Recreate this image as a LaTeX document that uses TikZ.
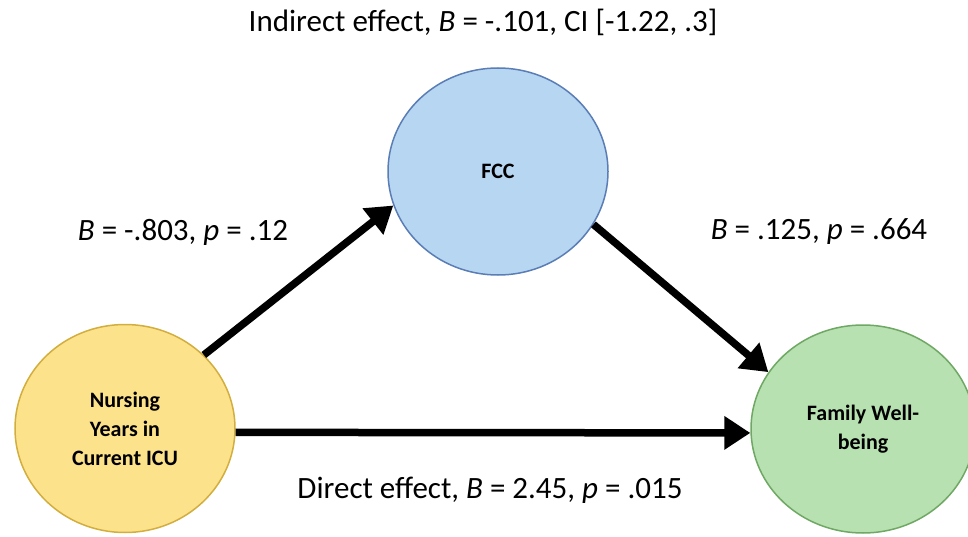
\documentclass[tikz,border=0pt]{standalone}
\usepackage{fontspec}
\setmainfont{Carlito}
\usetikzlibrary{shapes.geometric,arrows.meta}

\definecolor{yellowfill}{HTML}{FDE28C}
\definecolor{yellowline}{HTML}{D2AE3E}
\definecolor{bluefill}{HTML}{B7D6F1}
\definecolor{blueline}{HTML}{5B7DB5}
\definecolor{greenfill}{HTML}{B7E1B0}
\definecolor{greenline}{HTML}{6FA864}

\tikzset{
  varnode/.style={ellipse, line width=1.5pt, inner sep=0pt, align=center,
    font=\fontsize{22}{29}\selectfont\bfseries},
  patharrow/.style={line width=7.5pt, -{Triangle[length=26pt,width=32pt]}},
  effect/.style={font=\fontsize{31}{36}\selectfont}
}

\begin{document}
\begin{tikzpicture}[x=1pt,y=1pt]
\useasboundingbox (0,0) rectangle (968,536);

% Variables
\node[varnode, fill=yellowfill, draw=yellowline, minimum width=220pt, minimum height=208pt]
  (nursing) at (125,107.5) {Nursing\\Years in\\Current ICU};
\node[varnode, fill=bluefill, draw=blueline, minimum width=220pt, minimum height=207pt]
  (fcc) at (498,364.5) {FCC};
\node[varnode, fill=greenfill, draw=greenline, minimum width=224pt, minimum height=208pt]
  (family) at (863,107) {Family Well-\\being};

% Paths
\draw[patharrow] (nursing.43) -- (fcc.198);
\draw[patharrow] (fcc.331) -- (family.149);
\draw[patharrow] (nursing.-2) -- (family.182);

% Labels
\node[effect] (indirect) at (483,514) {Indirect effect, \textit{B} = -.101, CI [-1.22, .3]};
\node[effect] (apath) at (183,304) {\textit{B} = -.803, \textit{p} = .12};
\node[effect] (bpath) at (819,304) {\textit{B} = .125, \textit{p} = .664};
\node[effect] (direct) at (490,46) {Direct effect, \textit{B} = 2.45, \textit{p} = .015};

\end{tikzpicture}
\end{document}
